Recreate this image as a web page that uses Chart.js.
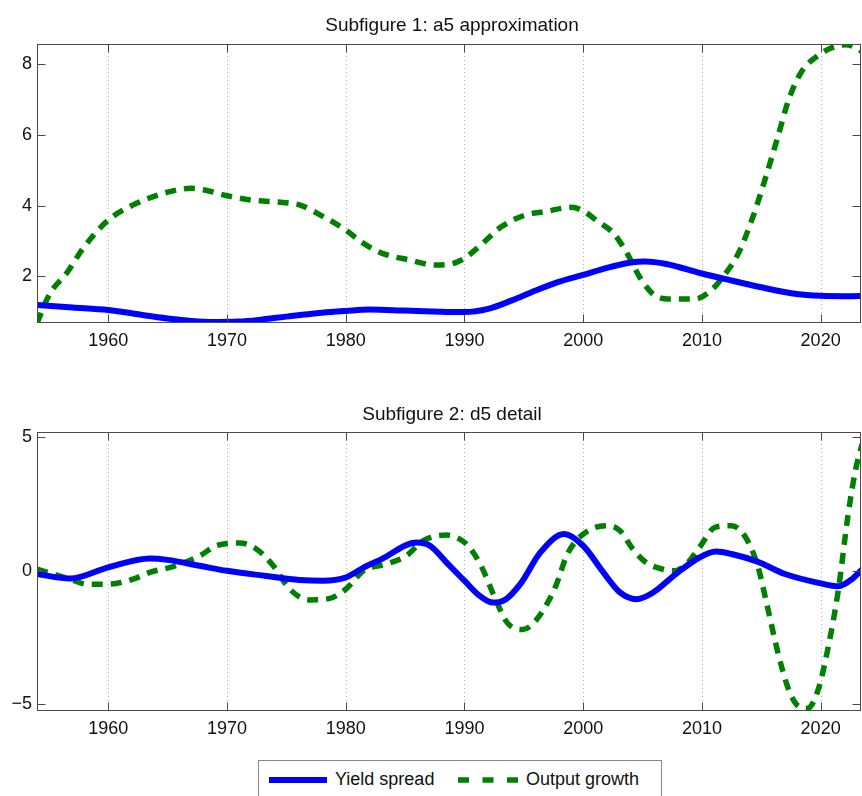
<!DOCTYPE html>
<html>
<head>
<meta charset="utf-8">
<script src="https://cdn.jsdelivr.net/npm/chart.js@4.4.1/dist/chart.umd.min.js"></script>
<style>
  body { margin: 0; background: #fff; width: 862px; height: 796px; overflow: hidden; position: relative; font-family: "Liberation Sans", Arial, sans-serif; }
  .plot { position: absolute; left: 0; width: 862px; }
  #top { top: 0; height: 370px; }
  #bottom { top: 380px; height: 378px; }
  #legend { position: absolute; left: 258px; top: 760px; width: 402px; height: 44px; border: 1px solid #888; background: #fff; font-size: 18px; color: #111; }
  #legend .item { position: absolute; top: 8px; display: flex; align-items: center; }
  #legend svg { margin-right: 8px; }
</style>
</head>
<body>
<div class="plot" id="top"><canvas id="c1"></canvas></div>
<div class="plot" id="bottom"><canvas id="c2"></canvas></div>
<div id="legend">
  <div class="item" style="left:10px"><svg width="58" height="10"><line x1="0" y1="5" x2="58" y2="5" stroke="#0000ff" stroke-width="6"/></svg><span>Yield spread</span></div>
  <div class="item" style="left:199px"><svg width="60" height="10"><line x1="0" y1="5" x2="60" y2="5" stroke="#008000" stroke-width="5.5" stroke-dasharray="11 13.5"/></svg><span>Output growth</span></div>
</div>
<script>
// x axis ticks (years) shared by both panels
const yearTicks = [1960, 1970, 1980, 1990, 2000, 2010, 2020];

// Subfigure 1: a5 approximation
const topTicks = [2, 4, 6, 8];
const a5SpreadYears = [1954, 1957, 1960, 1963, 1965, 1967, 1969, 1971, 1973, 1975, 1978, 1980, 1982, 1985, 1988, 1990, 1992, 1994, 1996, 1998, 2000, 2002, 2004, 2005.2, 2007, 2010, 2012, 2015, 2018, 2020, 2022, 2024];
const a5Spread = [1.19, 1.12, 1.05, 0.9, 0.81, 0.74, 0.71, 0.72, 0.78, 0.86, 0.97, 1.02, 1.06, 1.03, 1.0, 0.99, 1.08, 1.32, 1.6, 1.85, 2.04, 2.24, 2.39, 2.42, 2.35, 2.08, 1.92, 1.69, 1.5, 1.45, 1.44, 1.45];
const a5GrowthYears = [1954, 1955.1, 1956.5, 1957.9, 1960, 1962.1, 1965, 1967, 1968, 1970, 1972.2, 1974.7, 1976.1, 1978.1, 1980, 1981.5, 1983.1, 1985.4, 1987.5, 1989, 1990, 1991.4, 1993.1, 1995.1, 1996.8, 1999, 2000, 2001.2, 2002.6, 2003.7, 2004.9, 2006, 2007.4, 2009.4, 2010.8, 2011.9, 2013, 2014.2, 2015.3, 2016.4, 2017.3, 2018.4, 2019.8, 2021.2, 2022.1, 2023.5, 2024];
const a5Growth = [0.68, 1.52, 2.09, 2.8, 3.59, 4.02, 4.38, 4.49, 4.45, 4.28, 4.15, 4.09, 4.02, 3.69, 3.31, 2.93, 2.65, 2.46, 2.32, 2.36, 2.51, 2.89, 3.4, 3.73, 3.83, 3.95, 3.85, 3.56, 3.2, 2.65, 1.9, 1.47, 1.36, 1.36, 1.61, 2.04, 2.6, 3.59, 4.72, 5.95, 6.99, 7.79, 8.25, 8.5, 8.55, 8.35, 8.2];

// Subfigure 2: d5 detail
const bottomTicks = [-5, 0, 5];
const d5SpreadYears = [1954, 1956.8, 1960, 1963.5, 1965, 1967.7, 1970, 1973.3, 1976.1, 1978.1, 1980, 1981.5, 1982.9, 1986, 1987.1, 1988.5, 1990, 1991.3, 1992.4, 1993.5, 1994.7, 1996.4, 1998.4, 2000, 2001.7, 2003.1, 2004.5, 2005.9, 2007.8, 2009.8, 2011.2, 2012.5, 2014.7, 2017, 2020, 2021.5, 2022.7, 2023.5, 2024];
const d5Spread = [-0.12, -0.29, 0.13, 0.46, 0.41, 0.19, 0.0, -0.19, -0.34, -0.37, -0.25, 0.12, 0.41, 1.06, 0.94, 0.31, -0.37, -0.94, -1.19, -1.06, -0.5, 0.69, 1.38, 0.94, -0.06, -0.81, -1.06, -0.81, -0.12, 0.5, 0.72, 0.63, 0.34, -0.12, -0.47, -0.58, -0.29, 0.06, 0.3];
const d5GrowthYears = [1954, 1956.8, 1958.2, 1960, 1962.1, 1963.5, 1965.7, 1967.7, 1969.1, 1971.1, 1972.5, 1973.9, 1975.3, 1976.9, 1978.6, 1980, 1981.5, 1983.4, 1985.1, 1986.5, 1988.5, 1989.6, 1990.3, 1991.4, 1992.5, 1993.6, 1994.9, 1996.1, 1997.7, 1998.6, 1999.4, 2000.8, 2002.2, 2003.1, 2004.2, 2005.3, 2006.7, 2007.6, 2008.7, 2009.8, 2011.1, 2012.5, 2013.6, 2014.7, 2015.5, 2016.4, 2017.3, 2018.1, 2018.9, 2019.8, 2020.6, 2021.5, 2022.3, 2022.9, 2023.5, 2024];
const d5Growth = [0.06, -0.31, -0.5, -0.5, -0.31, -0.06, 0.19, 0.56, 0.94, 1.04, 0.81, 0.19, -0.69, -1.09, -1.04, -0.69, 0.0, 0.25, 0.56, 1.12, 1.34, 1.19, 0.94, 0.19, -0.94, -1.94, -2.2, -1.81, -0.56, 0.56, 1.12, 1.59, 1.69, 1.5, 0.81, 0.31, 0.06, 0.0, 0.25, 0.88, 1.63, 1.69, 1.31, 0.19, -1.31, -3.06, -4.44, -5.06, -5.15, -4.44, -2.94, -0.69, 2.06, 3.69, 4.75, 5.4];

const FONT = "'Liberation Sans', Arial, sans-serif";
const zip = (xs, ys) => xs.map((x, i) => ({ x: x, y: ys[i] }));

// frame, inward tick marks, dotted grid and panel title (matlab-style axes)
const axesBox = {
  id: "axesBox",
  beforeDatasetsDraw(chart) {
    const { ctx, chartArea: a, scales } = chart;
    ctx.save();
    ctx.strokeStyle = "#b4b4b4";
    ctx.lineWidth = 1;
    ctx.setLineDash([1, 3]);
    yearTicks.forEach((v) => {
      const x = Math.round(scales.x.getPixelForValue(v)) + 0.5;
      ctx.beginPath();
      ctx.moveTo(x, a.top);
      ctx.lineTo(x, a.bottom);
      ctx.stroke();
    });
    ctx.restore();
  },
  afterDatasetsDraw(chart, args, opts) {
    const { ctx, chartArea: a, scales } = chart;
    ctx.save();
    ctx.strokeStyle = "#4a4a4a";
    ctx.lineWidth = 1;
    const L = Math.round(a.left) + 0.5, R = Math.round(a.right) - 0.5;
    const T = Math.round(a.top) + 0.5, B = Math.round(a.bottom) - 0.5;
    ctx.strokeRect(L, T, R - L, B - T);
    ctx.beginPath();
    yearTicks.forEach((v) => {
      const x = Math.round(scales.x.getPixelForValue(v)) + 0.5;
      ctx.moveTo(x, T); ctx.lineTo(x, T + 8);
      ctx.moveTo(x, B); ctx.lineTo(x, B - 8);
    });
    opts.yTicks.forEach((v) => {
      const y = Math.round(scales.y.getPixelForValue(v)) + 0.5;
      ctx.moveTo(L, y); ctx.lineTo(L + 8, y);
      ctx.moveTo(R, y); ctx.lineTo(R - 8, y);
    });
    ctx.stroke();
    ctx.fillStyle = "#111";
    ctx.font = "19px " + FONT;
    ctx.textAlign = "center";
    ctx.textBaseline = "alphabetic";
    ctx.fillText(opts.title, 452, opts.titleY);
    ctx.restore();
  },
};

function makePanel(id, spreadPts, growthPts, yMin, yMax, yTicks, title, titleY, padTop) {
  return new Chart(document.getElementById(id), {
    type: "line",
    data: {
      datasets: [
        { label: "Yield spread", data: spreadPts, borderColor: "#0000ff", borderWidth: 6, pointRadius: 0, cubicInterpolationMode: "monotone", fill: false },
        { label: "Output growth", data: growthPts, borderColor: "#008000", borderWidth: 5.5, borderDash: [11, 8], pointRadius: 0, cubicInterpolationMode: "monotone", fill: false },
      ],
    },
    options: {
      responsive: true,
      maintainAspectRatio: false,
      animation: false,
      events: [],
      layout: { padding: { top: padTop, right: 1, left: 0, bottom: 0 } },
      plugins: {
        legend: { display: false },
        tooltip: { enabled: false },
        axesBox: { yTicks: yTicks, title: title, titleY: titleY },
      },
      scales: {
        x: {
          type: "linear",
          min: 1954,
          max: 2023.4,
          grid: { display: false, drawTicks: false },
          border: { display: false },
          afterBuildTicks: (s) => { s.ticks = yearTicks.map((v) => ({ value: v })); },
          afterFit: (s) => { s.height = 47; },
          ticks: { padding: 7, color: "#111", font: { size: 18, family: FONT }, maxRotation: 0, callback: (v) => String(v) },
        },
        y: {
          min: yMin,
          max: yMax,
          grid: { display: false, drawTicks: false },
          border: { display: false },
          afterBuildTicks: (s) => { s.ticks = yTicks.map((v) => ({ value: v })); },
          afterFit: (s) => { s.width = 37; },
          ticks: { padding: 5, color: "#111", font: { size: 18, family: FONT }, callback: (v) => (v < 0 ? "\u2212" + Math.abs(v) : String(v)) },
        },
      },
    },
    plugins: [axesBox],
  });
}

makePanel("c1", zip(a5SpreadYears, a5Spread), zip(a5GrowthYears, a5Growth), 0.68, 8.57, topTicks, "Subfigure 1: a5 approximation", 30.5, 44);
makePanel("c2", zip(d5SpreadYears, d5Spread), zip(d5GrowthYears, d5Growth), -5.25, 5.2, bottomTicks, "Subfigure 2: d5 detail", 39.5, 52);
</script>
</body>
</html>
